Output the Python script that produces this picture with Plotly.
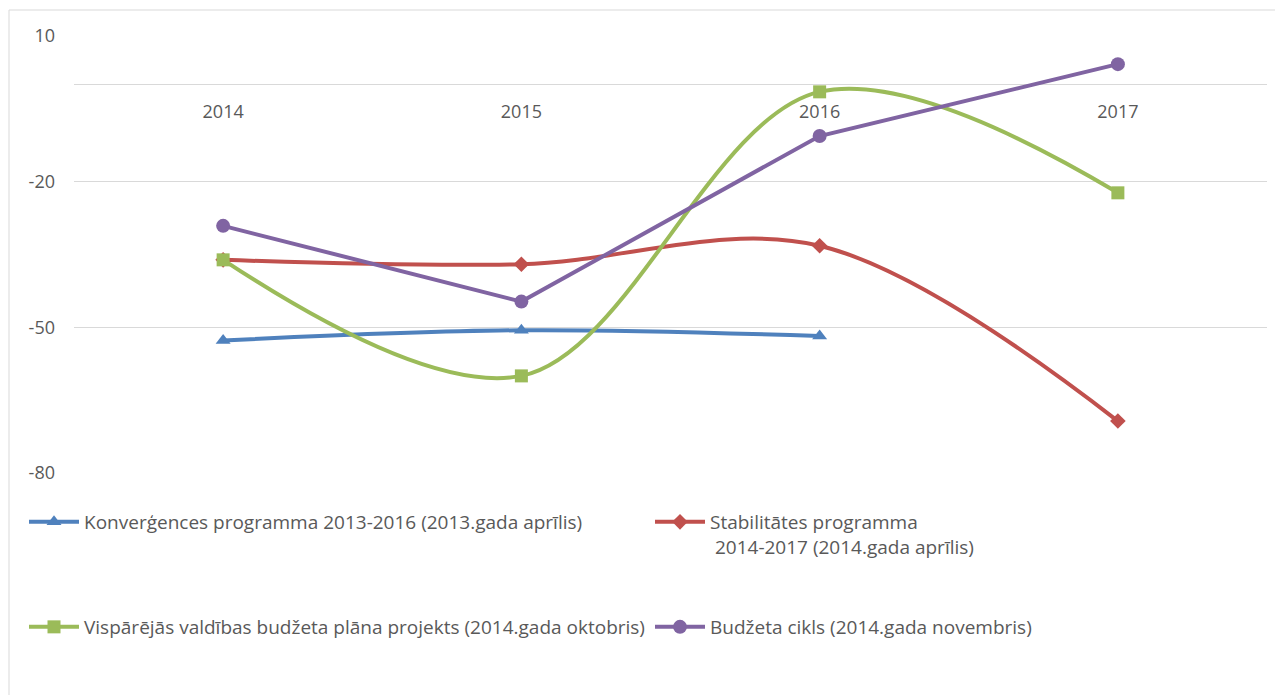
import plotly.graph_objects as go

years = ["2014", "2015", "2016", "2017"]
konvergences = [-52.7, -50.6, -51.8, None]
stabilitates = [-36.1, -37.0, -33.2, -69.3]
visparejas = [-36.1, -60.0, -1.5, -22.3]
budzeta = [-29.1, -44.7, -10.6, 4.2]

y_ticks = [-80, -50, -20, 10]

names = [
    "Konverģences programma 2013-2016 (2013.gada aprīlis)",
    "Stabilitātes programma<br> 2014-2017 (2014.gada aprīlis)",
    "Vispārējās valdības budžeta plāna projekts (2014.gada oktobris)",
    "Budžeta cikls (2014.gada novembris)",
]
series = [konvergences, stabilitates, visparejas, budzeta]
colors = ["#4F81BD", "#C0504D", "#9BBB59", "#8064A2"]
symbols = ["triangle-up", "diamond", "square", "circle"]
shapes_line = ["spline", "spline", "spline", "linear"]
msizes = [13, 12, 13, 14]
legends = ["legend", "legend2", "legend3", "legend4"]

# page offset from the default 8px body margin
OFF = 8
W, H = 1283 - OFF, 695 - OFF
# plot area in page pixels: left 74, right 1267, top 36, bottom 473
ml, mt = 74 - OFF, 36 - OFF
mr = W - (1267 - OFF)
mb = H - (473 - OFF)
pw, ph = W - ml - mr, H - mt - mb

def px_x(p):
    return (p - OFF - ml) / pw

def px_y(p):
    return (H - mb - (p - OFF)) / ph

fig = go.Figure()
for s, n, c, sym, sh, ms, lg in zip(series, names, colors, symbols, shapes_line, msizes, legends):
    fig.add_trace(go.Scatter(
        x=years, y=s, name=n, mode="lines+markers",
        line=dict(color=c, width=4, shape=sh, smoothing=1.0),
        marker=dict(symbol=sym, size=ms, color=c),
        legend=lg, connectgaps=False,
    ))

font = "Open Sans, Noto Sans, sans-serif"
legend_base = dict(font=dict(family=font, size=19, color="#595959"),
                   bgcolor="rgba(0,0,0,0)", xanchor="left", yanchor="top",
                   itemwidth=50, valign="top", itemclick=False)

fig.update_layout(
    width=W, height=H,
    margin=dict(l=ml, r=mr, t=mt, b=mb),
    paper_bgcolor="white", plot_bgcolor="white",
    font=dict(family=font, color="#595959"),
    showlegend=True,
    legend=dict(x=px_x(24), y=px_y(503), **legend_base),
    legend2=dict(x=px_x(650), y=px_y(503), **legend_base),
    legend3=dict(x=px_x(24), y=px_y(608), **legend_base),
    legend4=dict(x=px_x(650), y=px_y(608), **legend_base),
    xaxis=dict(
        type="category", categoryorder="array", categoryarray=years,
        range=[-0.5, 3.5], showgrid=False, showline=False, zeroline=False,
        anchor="free", position=80 / 90, side="bottom",
        ticks="", ticklabelstandoff=14,
        tickfont=dict(family=font, size=18, color="#595959"),
    ),
    yaxis=dict(
        range=[-80, 10], tickvals=y_ticks, ticktext=[str(v) for v in y_ticks],
        showgrid=True, gridcolor="#D9D9D9", gridwidth=1,
        zeroline=True, zerolinecolor="#D9D9D9", zerolinewidth=1,
        showline=False, ticks="", ticklabelstandoff=18,
        tickfont=dict(family=font, size=18, color="#595959"),
    ),
    shapes=[dict(type="rect", xref="paper", yref="paper",
                 x0=px_x(9), x1=px_x(1300), y0=px_y(720), y1=px_y(10),
                 line=dict(color="#D9D9D9", width=1), fillcolor="rgba(0,0,0,0)",
                 layer="below")],
)

fig.write_html("out.html")
